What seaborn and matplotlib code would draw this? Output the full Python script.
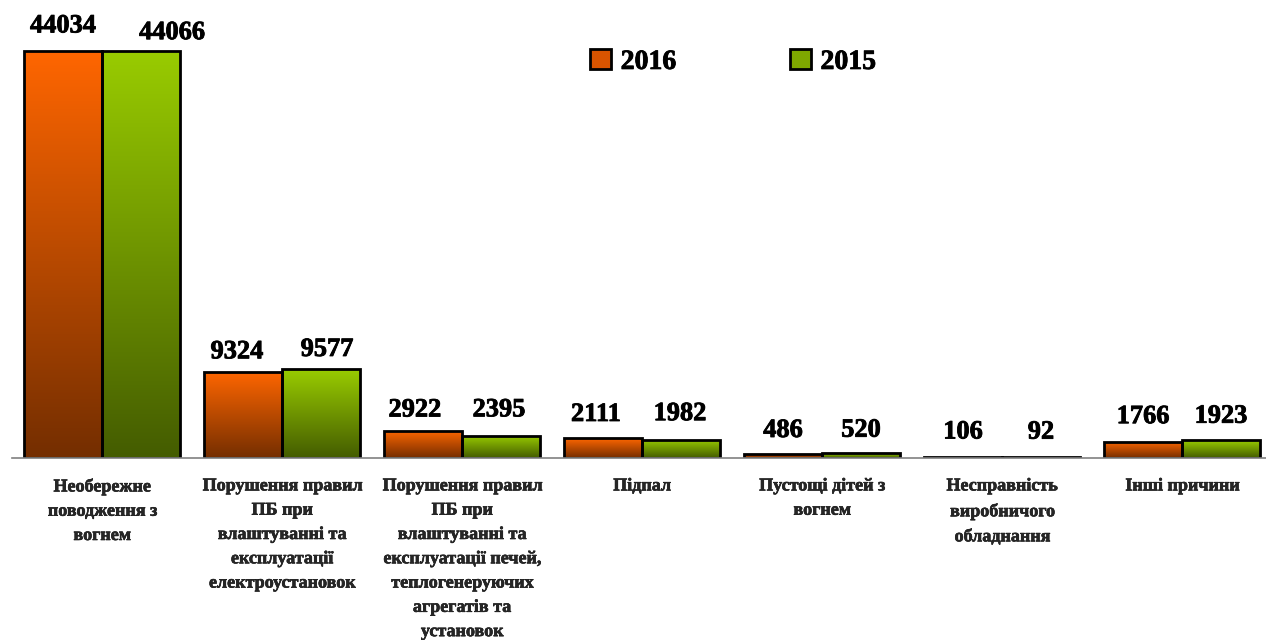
import numpy as np
import pandas as pd
import matplotlib
matplotlib.use("Agg")
import matplotlib.pyplot as plt
import matplotlib.patheffects as pe
import seaborn as sns
from matplotlib.patches import Patch
from matplotlib.colors import LinearSegmentedColormap

categories = [
    "Необережне\nповодження з\nвогнем",
    "Порушення правил\nПБ при\nвлаштуванні та\nексплуатації\nелектроустановок",
    "Порушення правил\nПБ при\nвлаштуванні та\nексплуатації печей,\nтеплогенеруючих\nагрегатів та\nустановок",
    "Підпал",
    "Пустощі дітей з\nвогнем",
    "Несправність\nвиробничого\nобладнання",
    "Інші причини",
]
years = ["2016", "2015"]
values_2016 = [44034, 9324, 2922, 2111, 486, 106, 1766]
values_2015 = [44066, 9577, 2395, 1982, 520, 92, 1923]

df = pd.DataFrame({
    "cat": categories * 2,
    "year": [years[0]] * len(categories) + [years[1]] * len(categories),
    "val": values_2016 + values_2015,
})

# hand-placed value labels in the original: (dx, gap above bar) in pixels
label_dx = {"2016": [0, -6, -8, -7, 0, 0, 0], "2015": [31, 6, -2, -1, 0, 0, 0]}
label_gap = {"2016": [28, 23, 24, 27, 26, 28, 28], "2015": [21, 23, 29, 29, 26, 28, 27]}

sns.set_style("white")
plt.rcParams["font.family"] = ["Liberation Serif", "DejaVu Serif"]
plt.rcParams["font.weight"] = "bold"
plt.rcParams["text.color"] = "black"

# a bit heavier than Liberation Serif Bold, closer to the original
heavy = [pe.withStroke(linewidth=0.6, foreground="black")]

top_cols = {"2016": "#ff6600", "2015": "#99cc00"}
bot_cols = {"2016": "#742e00", "2015": "#445c00"}

fig = plt.figure(figsize=(12.66, 6.4), dpi=100)
ax = fig.add_axes([12 / 1266, 182 / 640, 1260 / 1266, 440 / 640])

sns.barplot(data=df, x="cat", y="val", hue="year", hue_order=years,
            palette=top_cols, width=0.867, edgecolor="black", linewidth=2,
            legend=False, ax=ax)

ax.set_xlim(-0.5, 6.5)
ax.set_ylim(0, 47600)

# vertical gradient inside each bar
grad = np.linspace(1, 0, 256).reshape(-1, 1)
px = 72 / 100  # points per pixel
for container, yr in zip(ax.containers, years):
    cmap = LinearSegmentedColormap.from_list(yr, [bot_cols[yr], top_cols[yr]])
    for bar in container:
        x0, y0 = bar.get_x(), bar.get_y()
        w, h = bar.get_width(), bar.get_height()
        im = ax.imshow(grad, cmap=cmap, aspect="auto", extent=(x0, x0 + w, y0, y0 + h),
                       zorder=bar.get_zorder() - 0.1, vmin=0, vmax=1)
        im.set_clip_path(bar)
        bar.set_facecolor("none")
        bar.set_zorder(bar.get_zorder() + 0.2)
    for i, bar in enumerate(container):
        ax.annotate(f"{int(bar.get_height())}",
                    (bar.get_x() + bar.get_width() / 2, bar.get_height()),
                    xytext=(label_dx[yr][i] * px, (label_gap[yr][i] - 3) * px),
                    textcoords="offset points",
                    ha="center", va="center", fontsize=19, fontweight="bold",
                    path_effects=heavy)

ax.set_xlim(-0.5, 6.5)
ax.set_ylim(0, 47600)

# axis styling
for s in ["top", "right", "left"]:
    ax.spines[s].set_visible(False)
ax.spines["bottom"].set_color("#808080")
ax.spines["bottom"].set_linewidth(1.2)
ax.set_yticks([])
ax.set_xticks(np.arange(-0.5, 7, 1))
ax.set_xticklabels([])
ax.tick_params(axis="x", which="major", length=6, color="#808080", width=1.2, direction="out")
ax.set_xticks(range(len(categories)), minor=True)
ax.set_xticklabels(categories, minor=True, fontsize=13, fontweight="bold", linespacing=1.56,
                   path_effects=[pe.withStroke(linewidth=0.4, foreground="black")])
ax.tick_params(axis="x", which="minor", length=0, pad=14)
ax.set_xlabel("")
ax.set_ylabel("")

handles = [Patch(facecolor="#d85400", edgecolor="black", linewidth=2, label="2016"),
           Patch(facecolor="#7fa800", edgecolor="black", linewidth=2, label="2015")]
leg = fig.legend(handles=handles, loc="center", bbox_to_anchor=(733 / 1266, 1 - 62 / 640),
                 ncol=2, frameon=False, prop={"size": 20, "weight": "bold"},
                 handlelength=0.75, handleheight=0.75, handletextpad=0.35, columnspacing=4.1)
for t in leg.get_texts():
    t.set_path_effects(heavy)

fig.savefig("out.png", dpi=100)
